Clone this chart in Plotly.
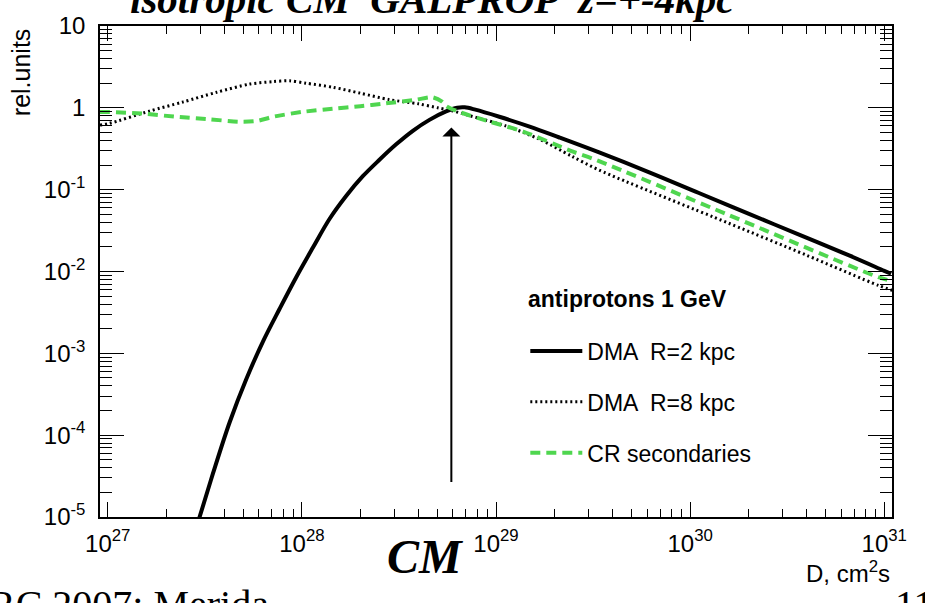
import plotly.graph_objects as go

# ---- data (D in cm^2/s, flux in rel. units) ----
d_r2 = [2.70e27, 2.976e27, 3.48e27, 4.25e27, 5.18e27, 6.30e27, 7.67e27, 9.35e27,
        1.14e28, 1.39e28, 1.69e28, 2.06e28, 2.51e28, 3.06e28, 3.73e28, 4.54e28,
        5.53e28, 6.32e28, 6.90e28, 7.83e28, 1.04e29, 1.49e29, 2.12e29, 3.40e29,
        6.16e29, 1.11e30, 2.01e30, 3.64e30, 6.59e30, 1.0e31, 1.085e31]
flux_r2 = [5.0e-6, 1.01e-5, 3.38e-5, 1.45e-4, 4.89e-4, 1.39e-3, 3.48e-3, 8.51e-3,
           0.0196, 0.0441, 0.0837, 0.146, 0.232, 0.358, 0.524, 0.713,
           0.905, 1.005, 1.015, 0.950, 0.778, 0.589, 0.434, 0.285,
           0.163, 0.0910, 0.0507, 0.0282, 0.0157, 0.0102, 0.00938]

d_r8 = [9.12e26, 1.02e27, 1.64e27, 2.43e27, 3.64e27, 5.38e27, 7.08e27, 8.65e27,
        1.05e28, 1.45e28, 2.0e28, 2.82e28, 3.98e28, 5.01e28, 6.03e28, 7.41e28,
        1.12e29, 1.66e29, 2.45e29, 3.39e29, 1.58e30, 3.98e30, 9.33e30, 1.10e31]
flux_r8 = [0.617, 0.646, 0.912, 1.175, 1.55, 1.95, 2.09, 2.14,
           2.0, 1.78, 1.51, 1.26, 1.12, 1.0, 0.912, 0.794,
           0.603, 0.417, 0.257, 0.174, 0.0389, 0.0158, 6.76e-3, 5.89e-3]

d_cr = [9.12e26, 1.02e27, 1.51e27, 2.26e27, 3.35e27, 4.79e27, 5.89e27, 7.08e27,
        1.0e28, 1.45e28, 2.0e28, 2.60e28, 3.89e28, 4.68e28, 5.25e28, 5.56e28,
        6.46e28, 9.33e28, 1.38e29, 2.45e29, 3.31e29, 1.58e30, 9.33e30, 1.10e31]
flux_cr = [0.891, 0.891, 0.851, 0.776, 0.724, 0.676, 0.692, 0.776,
           0.891, 0.977, 1.047, 1.122, 1.259, 1.349, 1.20, 1.047,
           0.891, 0.676, 0.513, 0.295, 0.229, 0.049, 8.51e-3, 7.59e-3]

x_tickvals = [1e27, 1e28, 1e29, 1e30, 1e31]
x_ticktext = ["10<sup>27</sup>", "10<sup>28</sup>", "10<sup>29</sup>",
              "10<sup>30</sup>", "10<sup>31</sup>"]
y_tickvals = [1e-5, 1e-4, 1e-3, 1e-2, 1e-1, 1, 10]
y_ticktext = ["10<sup>-5</sup>", "10<sup>-4</sup>", "10<sup>-3</sup>",
              "10<sup>-2</sup>", "10<sup>-1</sup>", "1", "10"]
# minor (2..9) tick positions of the log axes
x_minor = [m * 10.0 ** e for e in range(27, 31) for m in range(2, 10)]
y_minor = [m * 10.0 ** e for e in range(-5, 1) for m in range(2, 10)]

X_RANGE = [26.96, 31.04]
Y_RANGE = [-5, 1]

SANS = "Liberation Sans, Arial, sans-serif"
SERIF = "Liberation Serif, Times New Roman, serif"
GREEN = "#4fd64f"

fig = go.Figure()
fig.add_trace(go.Scatter(x=d_r2, y=flux_r2, mode="lines", name="DMA  R=2 kpc",
                         legendgroup="a", line_shape="spline",
                         line=dict(color="black", width=4, smoothing=1.0)))
fig.add_trace(go.Scatter(x=d_r8, y=flux_r8, mode="lines", name="DMA  R=8 kpc",
                         legendgroup="b", line_shape="spline",
                         line=dict(color="black", width=3, dash="2px,3px", smoothing=0.8)))
fig.add_trace(go.Scatter(x=d_cr, y=flux_cr, mode="lines", name="CR secondaries",
                         legendgroup="c", line_shape="spline",
                         line=dict(color=GREEN, width=4, dash="10px,6px", smoothing=0.7)))

axis_common = dict(type="log", showgrid=False, zeroline=False,
                   showline=True, linecolor="black", linewidth=1.5,
                   mirror="allticks", ticks="inside", tickcolor="black",
                   tickwidth=1.3,
                   tickfont=dict(family=SANS, size=24, color="black"))

fig.update_layout(
    xaxis=dict(**axis_common, range=X_RANGE, tickvals=x_tickvals,
               ticktext=x_ticktext, ticklen=15, ticklabelstandoff=4,
               minor=dict(tickmode="array", tickvals=x_minor, ticks="inside",
                          ticklen=8, tickwidth=1.3, tickcolor="black",
                          showgrid=False)),
    yaxis=dict(**axis_common, range=Y_RANGE, tickvals=y_tickvals,
               ticktext=y_ticktext, ticklen=24, ticklabelstandoff=8,
               minor=dict(tickmode="array", tickvals=y_minor, ticks="inside",
                          ticklen=12, tickwidth=1.3, tickcolor="black",
                          showgrid=False)),
)

fig.add_annotation(x=28.77, y=-0.24, ax=28.77, ay=-4.59,
                   xref="x", yref="y", axref="x", ayref="y",
                   text="", showarrow=True, arrowhead=1, arrowsize=1.5,
                   arrowwidth=2, arrowcolor="black", standoff=0)

annots = [
    dict(text="<b><i>isotropic CM  GALPROP  z=+-4kpc</i></b>", x=0.419, y=1.056,
         font=dict(family=SERIF, size=41, color="black"), xanchor="center", yanchor="middle"),
    dict(text="<b><i>CM</i></b>", x=0.4116, y=-0.0808,
         font=dict(family=SERIF, size=48, color="black"), xanchor="center", yanchor="middle"),
    dict(text="ICRC 2007: Merida", x=-0.193, y=-0.178,
         font=dict(family=SERIF, size=40, color="black"), xanchor="left", yanchor="middle"),
    dict(text="11", x=(893 - 100) / 792, y=-0.178,
         font=dict(family=SERIF, size=40, color="black"), xanchor="left", yanchor="middle"),
    dict(text="rel.units", x=-0.0997, y=0.906, textangle=-90,
         font=dict(family=SANS, size=25, color="black"), xanchor="center", yanchor="middle"),
    dict(text="D, cm<sup>2</sup>s", x=1.0, y=-0.111,
         font=dict(family=SANS, size=24, color="black"), xanchor="right", yanchor="middle"),
    dict(text="<b>antiprotons 1 GeV</b>", x=(526 - 100) / 792, y=(517 - 297) / 495,
         font=dict(family=SANS, size=23, color="black"), xanchor="left", yanchor="middle"),
]
for a in annots:
    fig.add_annotation(xref="paper", yref="paper", showarrow=False, **a)

fig.update_layout(
    width=925, height=603,
    margin=dict(l=100, r=33, t=22, b=86),
    plot_bgcolor="white", paper_bgcolor="white",
    showlegend=True,
    legend=dict(x=0.537, y=0.382, xanchor="left", yanchor="top",
                bgcolor="rgba(0,0,0,0)", borderwidth=0,
                font=dict(family=SANS, size=23, color="black"),
                itemwidth=52, tracegroupgap=18, traceorder="grouped"),
)

fig.write_html("out.html")
